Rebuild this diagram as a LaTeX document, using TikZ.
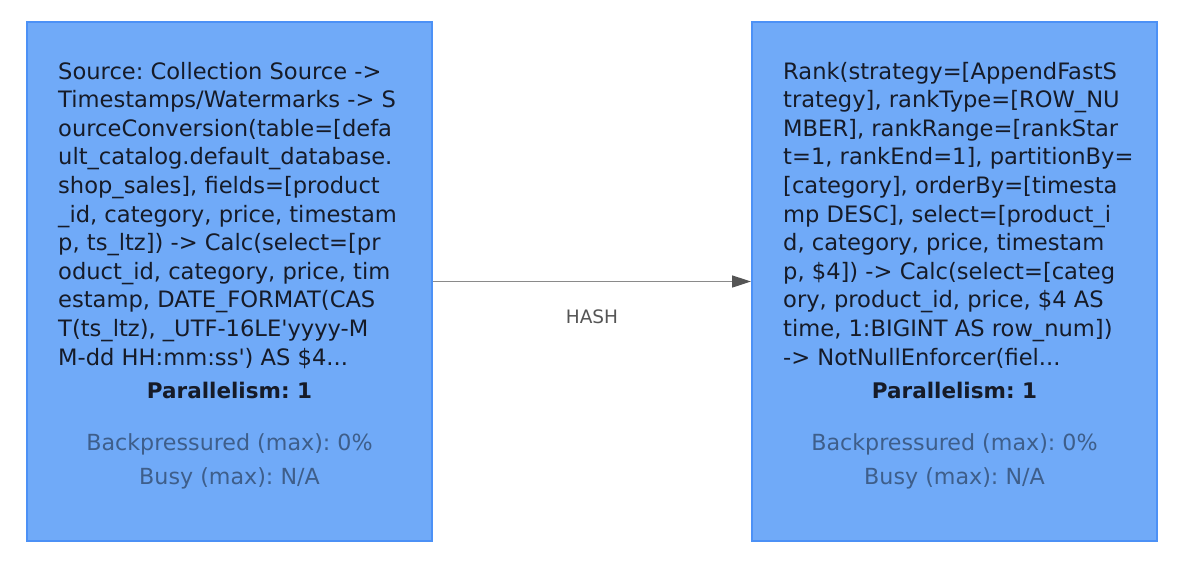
\documentclass[tikz,border=0pt]{standalone}
\usepackage{fontspec}
\setmainfont{DejaVu Sans}
\usetikzlibrary{arrows.meta}
\definecolor{boxfill}{RGB}{112,170,248}
\definecolor{boxline}{RGB}{76,145,246}
\definecolor{maintext}{RGB}{22,27,40}
\definecolor{subtext}{RGB}{62,94,138}
\definecolor{edgeline}{RGB}{138,138,138}
\definecolor{edgetip}{RGB}{85,85,85}
\newcommand{\us}{\_}
\newcommand{\sq}{\textquotesingle}
\frenchspacing
\begin{document}
\frenchspacing
\begin{tikzpicture}[x=1pt,y=-1pt,
  opbox/.style={draw=boxline, line width=2pt, fill=boxfill, minimum width=405pt, minimum height=519pt, inner sep=0pt},
  desc/.style={anchor=base west, align=left, inner sep=0pt, text=maintext, font=\fontsize{22.6}{28.6}\selectfont},
  para/.style={anchor=base, inner sep=0pt, text=maintext, font=\fontsize{21.5}{26}\selectfont\bfseries},
  metric/.style={anchor=base, inner sep=0pt, text=subtext, font=\fontsize{22.2}{26}\selectfont},
  edgelbl/.style={anchor=base, inner sep=0pt, text=edgetip, font=\fontsize{18.5}{20}\selectfont},
  flow/.style={draw=edgeline, line width=1.6pt, -{Triangle[length=19pt,width=12pt,color=edgetip]}}
]
\useasboundingbox (0,0) rectangle (1198,568);
\node[opbox] (src) at (229.5,281.5) {};
\node[opbox] (rank) at (954.5,281.5) {};
\node[desc] (srctxt) at (58,365) {Source: Collection Source ->\\
Timestamps/Watermarks -> S\\
ourceConversion(table=[defa\\
ult\us catalog.default\us database.\\
shop\us sales], fields=[product\\
\us id, category, price, timestam\\
p, ts\us ltz]) -> Calc(select=[pr\\
oduct\us id, category, price, tim\\
estamp, DATE\us FORMAT(CAS\\
T(ts\us ltz), \us UTF-16LE\sq yyyy-M\\
M-dd HH:mm:ss\sq) AS \$4...};
\node[desc] (ranktxt) at (783,365) {Rank(strategy=[AppendFastS\\
trategy], rankType=[ROW\us NU\\
MBER], rankRange=[rankStar\\
t=1, rankEnd=1], partitionBy=\\
{[}category], orderBy=[timesta\\
mp DESC], select=[product\us i\\
d, category, price, timestam\\
p, \$4]) -> Calc(select=[categ\\
ory, product\us id, price, \$4 AS\\
time, 1:BIGINT AS row\us num])\\
-> NotNullEnforcer(fiel...};
\node[para] (srcpar) at (229.5,398) {Parallelism: 1};
\node[metric] (srcbp) at (229.5,450) {Backpressured (max): 0\%};
\node[metric] (srcbusy) at (229.5,484) {Busy (max): N/A};
\node[para] (rankpar) at (954.5,398) {Parallelism: 1};
\node[metric] (rankbp) at (954.5,450) {Backpressured (max): 0\%};
\node[metric] (rankbusy) at (954.5,484) {Busy (max): N/A};
\draw[flow] (src.east) -- (rank.west) node[edgelbl, pos=0.5, yshift=-41.5pt] (hash) {HASH};
\end{tikzpicture}
\end{document}
